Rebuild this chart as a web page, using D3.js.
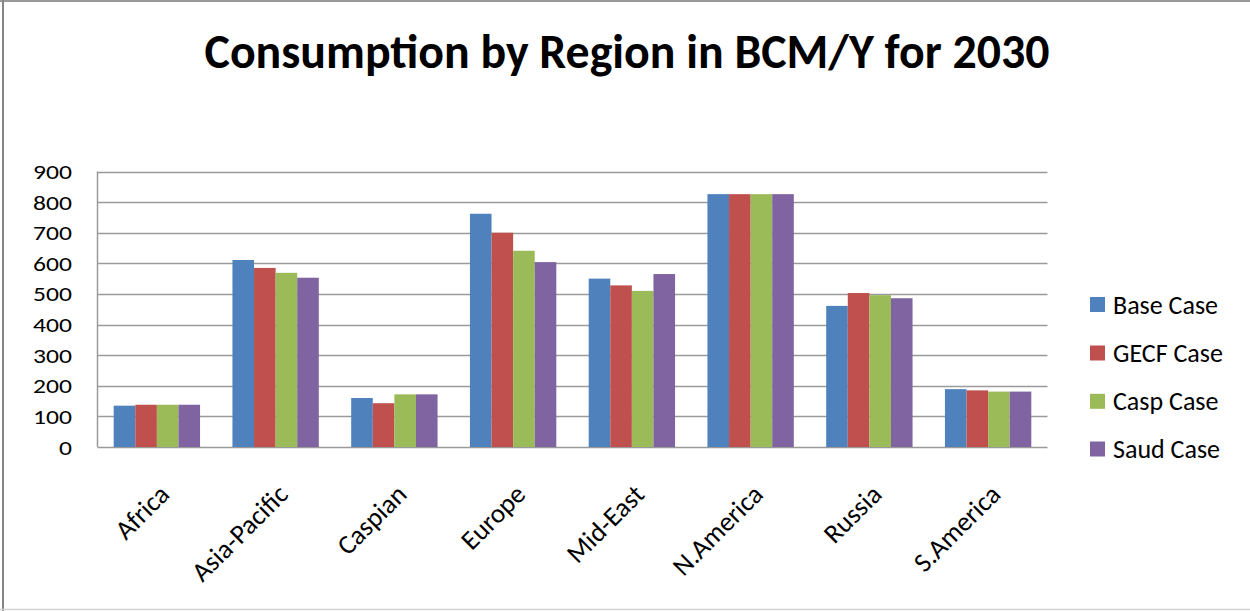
<!DOCTYPE html>
<html>
<head>
<meta charset="utf-8">
<script src="https://cdn.jsdelivr.net/npm/d3@7"></script>
<style>
  html, body { margin: 0; padding: 0; background: #fff; }
  svg { display: block; }
  text { font-family: "Carlito", "Lato", "Open Sans", sans-serif; fill: #000; }
</style>
</head>
<body>
<svg id="chart" width="1250" height="611"></svg>
<script>
const title = "Consumption by Region in BCM/Y for 2030";
const categories = ["Africa", "Asia-Pacific", "Caspian", "Europe", "Mid-East", "N.America", "Russia", "S.America"];
const seriesNames = ["Base Case", "GECF Case", "Casp Case", "Saud Case"];
const baseCase = [135, 611, 160, 762, 550, 826, 461, 189];
const gecfCase = [138, 585, 143, 700, 528, 826, 503, 185];
const caspCase = [138, 569, 172, 641, 510, 826, 496, 181];
const saudCase = [138, 553, 172, 604, 565, 826, 486, 181];
const yTicks = [0, 100, 200, 300, 400, 500, 600, 700, 800, 900];
const colors = ["#4F81BD", "#C0504D", "#9BBB59", "#8064A2"];

const seriesValues = [baseCase, gecfCase, caspCase, saudCase];

const svg = d3.select("#chart");

// outer chart border
svg.append("line").attr("x1", 0).attr("x2", 1250).attr("y1", 1).attr("y2", 1)
  .attr("stroke", "#9a9a9a").attr("stroke-width", 2);
svg.append("line").attr("x1", 3).attr("x2", 3).attr("y1", 0).attr("y2", 611)
  .attr("stroke", "#868686").attr("stroke-width", 2);
svg.append("line").attr("x1", 0).attr("x2", 1250).attr("y1", 609.5).attr("y2", 609.5)
  .attr("stroke", "#d4d4d4").attr("stroke-width", 1.5);

const plot = { left: 97.5, right: 1047.5, top: 171.5, bottom: 447 };

const x = d3.scaleBand().domain(categories).range([plot.left, plot.right])
  .paddingInner(1.5 / 5.5).paddingOuter(0.75 / 5.5);
const xs = d3.scaleBand().domain(seriesNames).range([0, x.bandwidth()]);
const y = d3.scaleLinear().domain([0, 900]).range([plot.bottom, plot.top]);

// gridlines
svg.append("g").selectAll("line").data(yTicks).join("line")
  .attr("x1", plot.left).attr("x2", plot.right)
  .attr("y1", d => Math.round(y(d)) + 0.5).attr("y2", d => Math.round(y(d)) + 0.5)
  .attr("stroke", "#9a9a9a").attr("stroke-width", 1.5);

// bars
const rows = categories.map((c, i) => ({ cat: c, vals: seriesNames.map((s, j) => ({ s, j, v: seriesValues[j][i] })) }));
const groups = svg.append("g").selectAll("g").data(rows).join("g")
  .attr("transform", d => `translate(${x(d.cat)},0)`);
groups.selectAll("rect").data(d => d.vals).join("rect")
  .attr("x", d => xs(d.s))
  .attr("width", xs.bandwidth())
  .attr("y", d => y(d.v))
  .attr("height", d => y(0) - y(d.v))
  .attr("fill", d => colors[d.j]);

// y axis
const yAxis = d3.axisLeft(y).tickValues(yTicks).tickSize(0).tickPadding(0);
const yg = svg.append("g").attr("transform", `translate(${plot.left},0)`).call(yAxis);
yg.select(".domain").remove();
yg.selectAll(".tick text")
  .attr("font-size", 20).style("font-family", null)
  .attr("x", 0).attr("dy", "0.35em")
  .attr("transform", "translate(-25.5,0) scale(1.28,1)");
svg.append("line").attr("x1", plot.left).attr("x2", plot.left)
  .attr("y1", plot.top).attr("y2", plot.bottom)
  .attr("stroke", "#9a9a9a").attr("stroke-width", 1.5);

// x axis labels
const xAxis = d3.axisBottom(x).tickSize(0).tickPadding(0);
const xg = svg.append("g").attr("transform", `translate(0,${plot.bottom})`).call(xAxis);
xg.select(".domain").remove();
xg.selectAll("text")
  .attr("font-size", 27).style("font-family", null)
  .attr("text-anchor", "end")
  .attr("x", 0).attr("y", 0).attr("dy", 0)
  .attr("transform", "translate(14,49) rotate(-45)");

// title
const t = svg.append("text").attr("x", 627).attr("y", 68)
  .attr("text-anchor", "middle").attr("font-weight", "bold")
  .attr("font-size", 40).text(title);
const w = t.node().getComputedTextLength();
t.attr("font-size", 40 * 845 / w);

// legend
const legY = [304.5, 353, 401.3, 449];
const leg = svg.append("g").selectAll("g").data(seriesNames).join("g")
  .attr("transform", (d, i) => `translate(1090,${legY[i]})`);
leg.append("rect").attr("x", 0).attr("y", -7.5).attr("width", 15).attr("height", 15)
  .attr("fill", (d, i) => colors[i]);
leg.append("text").attr("x", 23).attr("y", 0).attr("dy", "0.35em")
  .attr("font-size", 26).text(d => d);
</script>
</body>
</html>
